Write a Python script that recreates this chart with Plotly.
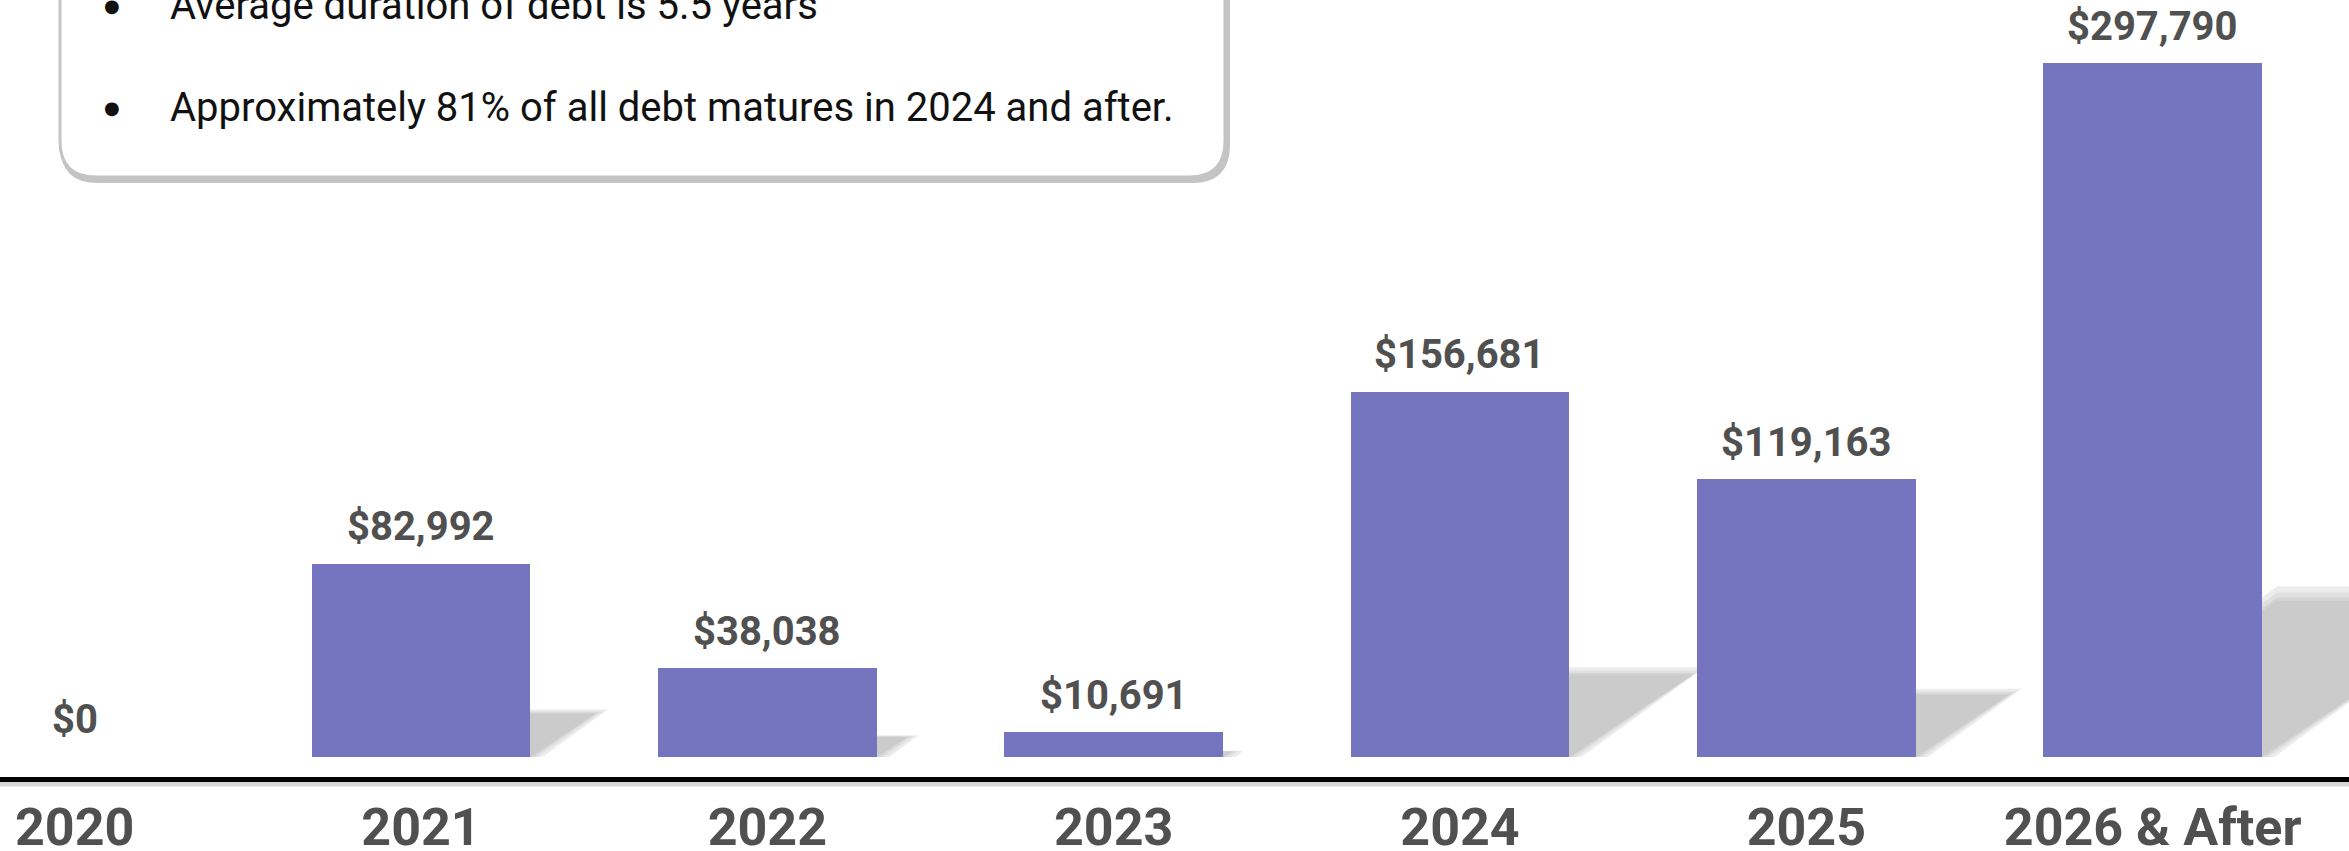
import plotly.graph_objects as go

categories = ["2020", "2021", "2022", "2023", "2024", "2025", "2026 & After"]
values = [0, 82992, 38038, 10691, 156681, 119163, 297790]
value_labels = ["$0", "$82,992", "$38,038", "$10,691", "$156,681", "$119,163", "$297,790"]
bullets = ["Average duration of debt is 5.5 years",
           "Approximately 81% of all debt matures in 2024 and after."]

W, H = 2349, 851
MB = 74
PH = H - MB
BAR_COLOR = "#7575bf"
TXT = "#505050"
BAR_W = 0.632
XR = [-0.2157, 6.567]
YR = [-8590, 324860]

x = list(range(len(categories)))

def px_per_y():
    return PH / (YR[1] - YR[0])

def px_per_x():
    return W / (XR[1] - XR[0])

shapes = []

# perspective shadows behind bars (data coordinates, drawn below traces)
for i, v in enumerate(values):
    if v <= 0:
        continue
    hv = 0.225 * v
    dx = 1.5 * hv * px_per_y() / px_per_x()
    for grow, col in ((0.035, "#ececec"), (0.02, "#e0e0e0"), (0.008, "#d4d4d4"), (0.0, "#cbcbcb")):
        gx = grow
        gy = grow * 0.6 * v
        x0 = i - BAR_W / 2
        x1 = i + BAR_W / 2 + gx
        path = "M %f %f L %f %f L %f %f L %f %f Z" % (
            x0, 0,
            x1, 0,
            x1 + dx, hv + gy,
            x0 + dx, hv + gy)
        shapes.append(dict(type="path", xref="x", yref="y", path=path, fillcolor=col,
                           line=dict(width=0), layer="below"))

fig = go.Figure()
fig.add_trace(go.Bar(x=x, y=values, width=BAR_W, marker=dict(color=BAR_COLOR, line=dict(width=0)),
                     showlegend=False, hoverinfo="skip"))

annotations = []
for i, (v, lab) in enumerate(zip(values, value_labels)):
    annotations.append(dict(x=i, y=v, xref="x", yref="y", text="<b>%s</b>" % lab, showarrow=False,
                            yanchor="middle", yshift=37,
                            font=dict(family="Roboto", size=40, color=TXT)))

def paper(px_x, px_y):
    return px_x / W, 1 - px_y / PH

# rounded info box
def box_path(x0, y0, x1, y1, r):
    ax, ay = paper(x0, y0)
    bx, by = paper(x1, y1)
    rx = r / W
    ry = r / PH
    p = "M %f %f L %f %f Q %f %f %f %f L %f %f Q %f %f %f %f L %f %f" % (
        ax, ay,
        ax, by + ry,
        ax, by, ax + rx, by,
        bx - rx, by,
        bx, by, bx, by + ry,
        bx, ay)
    return p + " Z"

shapes += [
    dict(type="path", xref="paper", yref="paper", path=box_path(62, -60, 1228, 181, 36),
         line=dict(color="#c4c4c4", width=4), fillcolor="#c4c4c4", layer="above"),
    dict(type="path", xref="paper", yref="paper", path=box_path(60, -60, 1225, 177, 36),
         line=dict(color="#c4c4c4", width=3), fillcolor="white", layer="above"),
    dict(type="line", xref="paper", yref="paper", x0=0, x1=1, y0=-7 / PH, y1=-7 / PH,
         line=dict(color="#d6d6d6", width=5), layer="below"),
]

line_y = [6, 108]
for ly, t in zip(line_y, bullets):
    bx, by = paper(112, ly)
    tx, ty = paper(168, ly)
    annotations.append(dict(x=bx, y=by, xref="paper", yref="paper", text="●", showarrow=False,
                            xanchor="center", yanchor="middle",
                            font=dict(family="DejaVu Sans", size=18, color="#111111")))
    annotations.append(dict(x=tx, y=ty, xref="paper", yref="paper", text=t, showarrow=False,
                            xanchor="left", yanchor="middle",
                            font=dict(family="Roboto", size=40, color="#111111")))

fig.update_layout(
    width=W, height=H,
    margin=dict(l=0, r=0, t=0, b=MB, pad=0, autoexpand=False),
    paper_bgcolor="white", plot_bgcolor="white",
    bargap=0,
    xaxis=dict(range=XR, tickvals=x, ticktext=["<b>%s</b>" % c for c in categories],
               tickfont=dict(family="Roboto", size=52, color=TXT), showgrid=False, zeroline=False,
               showline=True, linecolor="black", linewidth=5, ticks="", ticklabelstandoff=1,
               automargin=False, fixedrange=True),
    yaxis=dict(range=YR, visible=False, showgrid=False, zeroline=False, fixedrange=True,
               automargin=False),
    annotations=annotations,
    shapes=shapes,
)

fig.write_html("out.html")
